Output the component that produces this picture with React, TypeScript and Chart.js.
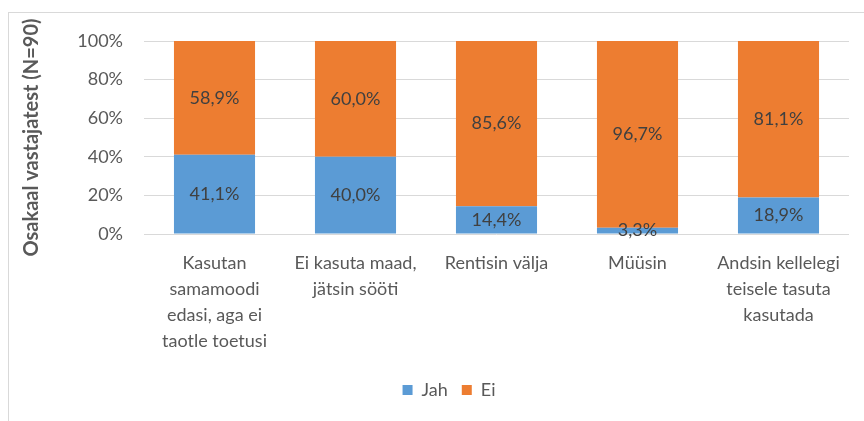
import React, { useEffect, useRef } from "react";
import { Chart, registerables } from "chart.js";

Chart.register(...registerables);

const categories: string[][] = [
  ["Kasutan", "samamoodi", "edasi, aga ei", "taotle toetusi"],
  ["Ei kasuta maad,", "jätsin sööti"],
  ["Rentisin välja"],
  ["Müüsin"],
  ["Andsin kellelegi", "teisele tasuta", "kasutada"],
];
const jahValues = [41.1, 40.0, 14.4, 3.3, 18.9];
const eiValues = [58.9, 60.0, 85.6, 96.7, 81.1];
const seriesNames = ["Jah", "Ei"];
const yTickStep = 20;
const yMax = 100;
const yTitle = "Osakaal vastajatest (N=90)";

const FONT = "Lato";
const fmt = (v: number) => v.toFixed(1).replace(".", ",") + "%";

const segLabels = {
  id: "segLabels",
  afterDatasetsDraw(chart: any) {
    const ctx = chart.ctx;
    ctx.save();
    ctx.font = `18px ${FONT}`;
    ctx.fillStyle = "#404040";
    ctx.textAlign = "center";
    ctx.textBaseline = "middle";
    chart.data.datasets.forEach((ds: any, i: number) => {
      const meta = chart.getDatasetMeta(i);
      meta.data.forEach((bar: any, j: number) => {
        const p = bar.getProps(["x", "y", "base"], true);
        ctx.fillText(fmt(ds.data[j]), p.x, (p.y + p.base) / 2);
      });
    });
    ctx.restore();
  },
};

export default function App() {
  const ref = useRef<HTMLCanvasElement>(null);
  useEffect(() => {
    if (!ref.current) return;
    const chart = new Chart(ref.current, {
      type: "bar",
      data: {
        labels: categories,
        datasets: [
          { label: seriesNames[0], data: jahValues, backgroundColor: "#5B9BD5", borderWidth: 0 },
          { label: seriesNames[1], data: eiValues, backgroundColor: "#ED7D31", borderWidth: 0 },
        ],
      },
      options: {
        responsive: false,
        animation: false,
        devicePixelRatio: 1,
        layout: { padding: { left: 0, right: 0, top: 41, bottom: 12 } },
        datasets: { bar: { categoryPercentage: 1, barPercentage: 0.575 } } as any,
        plugins: {
          legend: {
            position: "bottom",
            labels: {
              boxWidth: 10,
              boxHeight: 10,
              padding: 14,
              color: "#595959",
              font: { family: FONT, size: 18 },
            },
          },
          tooltip: { enabled: false },
        },
        scales: {
          x: {
            stacked: true,
            grid: { display: false, drawTicks: false },
            border: { display: false },
            ticks: {
              color: "#595959",
              padding: 16,
              maxRotation: 0,
              autoSkip: false,
              font: { family: FONT, size: 18, lineHeight: 26 / 18 },
            },
            afterFit: (s: any) => {
              s.height = 133;
            },
          },
          y: {
            stacked: true,
            min: 0,
            max: yMax,
            grid: { color: "#D9D9D9", lineWidth: 1, drawTicks: false },
            border: { display: false },
            ticks: {
              stepSize: yTickStep,
              color: "#595959",
              padding: 21,
              font: { family: FONT, size: 18 },
              callback: (v: any) => v + "%",
            },
            title: {
              display: true,
              text: yTitle,
              color: "#595959",
              font: { family: FONT, size: 20, weight: "bold" },
              padding: { top: 20, bottom: 0 },
            },
            afterFit: (s: any) => {
              s.width = 144;
            },
          },
          yRight: {
            position: "right",
            display: true,
            grid: { display: false, drawTicks: false },
            border: { display: false },
            ticks: { display: false },
            afterFit: (s: any) => {
              s.width = 49;
            },
          },
        },
      },
      plugins: [segLabels],
    });
    return () => chart.destroy();
  }, []);
  return (
    <div style={{ position: "fixed", left: 0, top: 0, width: 864, height: 421, background: "#fff", overflow: "hidden" }}>
      <div
        style={{
          position: "absolute",
          left: 8,
          top: 12,
          width: 900,
          height: 500,
          border: "1px solid #D9D9D9",
          boxSizing: "border-box",
        }}
      />
      <canvas ref={ref} width={898} height={421} style={{ position: "absolute", left: 0, top: 0 }} />
    </div>
  );
}
